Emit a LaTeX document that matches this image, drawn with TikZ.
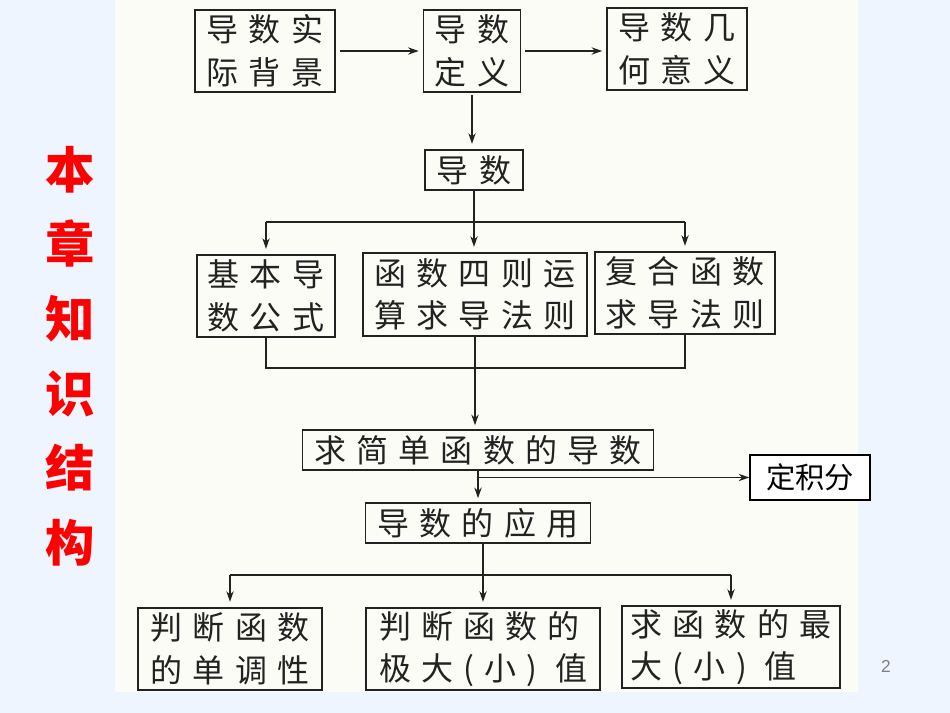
\documentclass[tikz,border=0pt]{standalone}
\usepackage{fontspec}
\setmainfont{Liberation Sans}
\newfontfamily\cjk[LetterSpace=32]{Noto Sans CJK SC}
\newfontfamily\cjkplain{Noto Sans CJK SC}
\usetikzlibrary{arrows.meta}

\definecolor{slideblue}{RGB}{238,245,254}
\definecolor{paper}{RGB}{252,252,247}
\definecolor{ink}{RGB}{34,34,34}

\tikzset{every picture/.style={line width=0.75pt}}
\tikzset{
  scanbox/.style={draw=ink, line width=1.2pt, inner sep=0pt, align=center, text=ink,
    font=\cjk\fontsize{24}{32}\selectfont},
  scanline/.style={draw=ink, line width=1.1pt},
  scanarrow/.style={draw=ink, line width=1.1pt, -{Stealth[length=8pt,width=5.5pt]}},
}

\begin{document}
\begin{tikzpicture}[x=0.75pt,y=0.75pt,yscale=-1,xscale=1]
%Shape: Rectangle [slide background]
\fill[slideblue] (0,0) rectangle (950,713);
%Shape: Rectangle [scanned page]
\fill[paper] (115,0) rectangle (858,692);

% Text Node
\node[text=red, align=center, font=\cjkplain\bfseries\fontsize{37}{56}\selectfont] (title) at (70,356) {本\\章\\知\\识\\结\\构};

% Text Node
\node[scanbox, minimum width=105pt, minimum height=61.5pt] (bg) at (265,51) {导数实\\际背景};
% Text Node
\node[scanbox, minimum width=72.75pt, minimum height=61.5pt] (def) at (472,51) {导数\\定义};
% Text Node
\node[scanbox, minimum width=105pt, minimum height=61.5pt] (geo) at (677,49) {导数几\\何意义};
% Text Node
\node[scanbox, minimum width=73.5pt, minimum height=30pt] (deriv) at (474,170) {导数};
% Text Node
\node[scanbox, minimum width=103.5pt, minimum height=61.5pt] (basic) at (266,296) {基本导\\数公式};
% Text Node
\node[scanbox, minimum width=168pt, minimum height=62.25pt] (arith) at (475,294.5) {函数四则运\\算求导法则};
% Text Node
\node[scanbox, minimum width=135pt, minimum height=61.5pt] (comp) at (685,293) {复合函数\\求导法则};
% Text Node
\node[scanbox, minimum width=263.25pt, minimum height=30pt] (simple) at (478,450) {求简单函数的导数};
% Text Node
\node[draw=black, line width=1pt, fill=white, inner sep=0pt, minimum width=90pt, minimum height=33.75pt,
  font=\cjkplain\fontsize{22}{26}\selectfont] (integ) at (810,477.5) {定积分};
% Text Node
\node[scanbox, minimum width=168.75pt, minimum height=30pt] (app) at (478,523) {导数的应用};
% Text Node
\node[scanbox, minimum width=138pt, minimum height=61.5pt] (mono) at (230,649) {判断函数\\的单调性};
% Text Node
\node[scanbox, align=left, minimum width=175.5pt, minimum height=61.5pt] (extr) at (483,649) {判断函数的\\极大(小) 值};
% Text Node
\node[scanbox, align=left, minimum width=163.5pt, minimum height=61.5pt] (maxv) at (731,647) {求函数的最\\大(小) 值};
% Text Node
\node[text=gray, font=\fontsize{13}{15}\selectfont] (page) at (886,666) {2};

\coordinate (fork1) at (474,222);
\coordinate (join) at (478,368);
\coordinate (fork2) at (483,575);

%Straight Lines
\draw[scanarrow, shorten <=3pt, shorten >=3pt] (bg.east) -- (def.west);
\draw[scanarrow, shorten <=3pt, shorten >=3pt] (def.east) -- (def.east -| geo.west);
\draw[scanarrow, shorten <=2pt, shorten >=4pt] (def.south) -- (def.south |- deriv.north);
%Straight Lines
\draw[scanline] (basic.north |- fork1) -- (comp.north |- fork1);
\draw[scanarrow, shorten >=4pt] (deriv.south) -- (deriv.south |- arith.north);
\draw[scanarrow, shorten >=4pt] (basic.north |- fork1) -- (basic.north);
\draw[scanarrow, shorten >=4pt] (comp.north |- fork1) -- (comp.north);
%Straight Lines
\draw[scanline] (basic.south) -- (basic.south |- join) -- (comp.south |- join) -- (comp.south);
\draw[scanarrow, shorten >=3pt] (arith.south) -- (arith.south |- simple.north);
\draw[scanarrow, shorten >=3pt] (simple.south) -- (app.north);
\draw[scanarrow] (simple.south |- integ.west) -- (integ.west);
%Straight Lines
\draw[scanline] (app.south -| extr.north) -- (extr.north |- fork2);
\draw[scanline] (mono.north |- fork2) -- (maxv.north |- fork2);
\draw[scanarrow, shorten >=4pt] (mono.north |- fork2) -- (mono.north);
\draw[scanarrow, shorten >=4pt] (extr.north |- fork2) -- (extr.north);
\draw[scanarrow, shorten >=4pt] (maxv.north |- fork2) -- (maxv.north);
\end{tikzpicture}
\end{document}
